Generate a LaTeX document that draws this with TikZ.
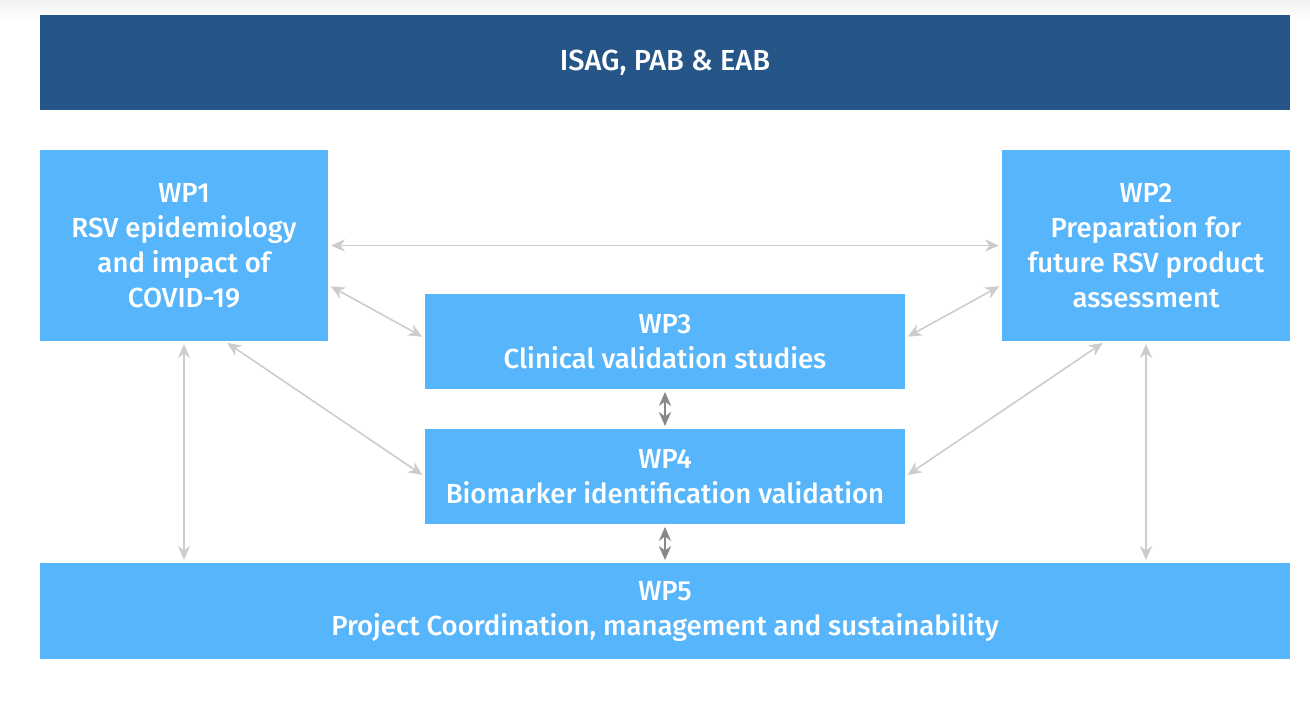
\documentclass[tikz,border=0pt]{standalone}
\usepackage{fontspec}
\setsansfont{Fira Sans}[BoldFont={Fira Sans Medium}]
\usepackage{xcolor}
\usepackage{tikz}
\usetikzlibrary{arrows.meta, positioning, calc}
\definecolor{boarddark}{RGB}{38,86,136}
\definecolor{wpblue}{RGB}{87,181,252}
\definecolor{linklight}{RGB}{204,204,204}
\definecolor{linkdark}{RGB}{136,136,136}

\tikzset{
  wpbox/.style={rectangle,fill=wpblue,draw=none,text=white,align=center,
    font=\sffamily\bfseries\fontsize{15.7}{19.9}\selectfont,inner sep=0pt},
  link/.style={{Stealth[length=8pt,width=7pt]}-{Stealth[length=8pt,width=7pt]},
    line width=0.9pt,draw=linklight,shorten <=1.5pt,shorten >=1.5pt},
  linkdk/.style={link,draw=linkdark}
}

\begin{document}
\begin{tikzpicture}[scale=1]
    \useasboundingbox (0,0) rectangle (26.2,-14.34);
    \shade[top color=gray!10,bottom color=white] (0,0) rectangle (26.2,-0.4);

    % Board al centro in alto
    \node[rectangle,fill=boarddark,minimum width=25cm,minimum height=1.9cm,text=white,font=\sffamily\bfseries\fontsize{16.5}{20}\selectfont] (board) at (13.3,-1.25) {ISAG, PAB \& EAB};

    % WP1 e WP2
    \node[wpbox,minimum width=5.76cm,minimum height=3.82cm] (wp1) at (3.68,-4.91) {WP1\\RSV epidemiology\\and impact of\\COVID-19};
    \node[wpbox,minimum width=5.76cm,minimum height=3.82cm] (wp2) at (22.92,-4.91) {WP2\\Preparation for\\future RSV product\\assessment};

    % WP3 e WP4
    \node[wpbox,minimum width=9.6cm,minimum height=1.9cm] (wp3) at (13.3,-6.83) {WP3\\Clinical validation studies};
    \node[wpbox,minimum width=9.6cm,minimum height=1.9cm] (wp4) at (13.3,-9.53) {WP4\\Biomarker identification validation};

    % WP5
    \node[wpbox,minimum width=25cm,minimum height=1.92cm] (wp5) at (13.3,-12.22) {WP5\\Project Coordination, management and sustainability};

    % Connessioni
    \draw[link] (wp1) -- (wp2);
    \draw[link] ([yshift=-0.79cm]wp1.east) -- ([yshift=0.07cm]wp3.west);
    \draw[link] ([yshift=-0.79cm]wp2.west) -- ([yshift=0.07cm]wp3.east);
    \draw[link] ([xshift=0.82cm]wp1.south) -- (wp4.west);
    \draw[link] ([xshift=-0.82cm]wp2.south) -- (wp4.east);
    \draw[link] (wp1.south) -- (wp1.south |- wp5.north);
    \draw[link] (wp2.south) -- (wp2.south |- wp5.north);
    \draw[linkdk] (wp3) -- (wp4);
    \draw[linkdk] (wp4) -- (wp5);
\end{tikzpicture}
\end{document}
